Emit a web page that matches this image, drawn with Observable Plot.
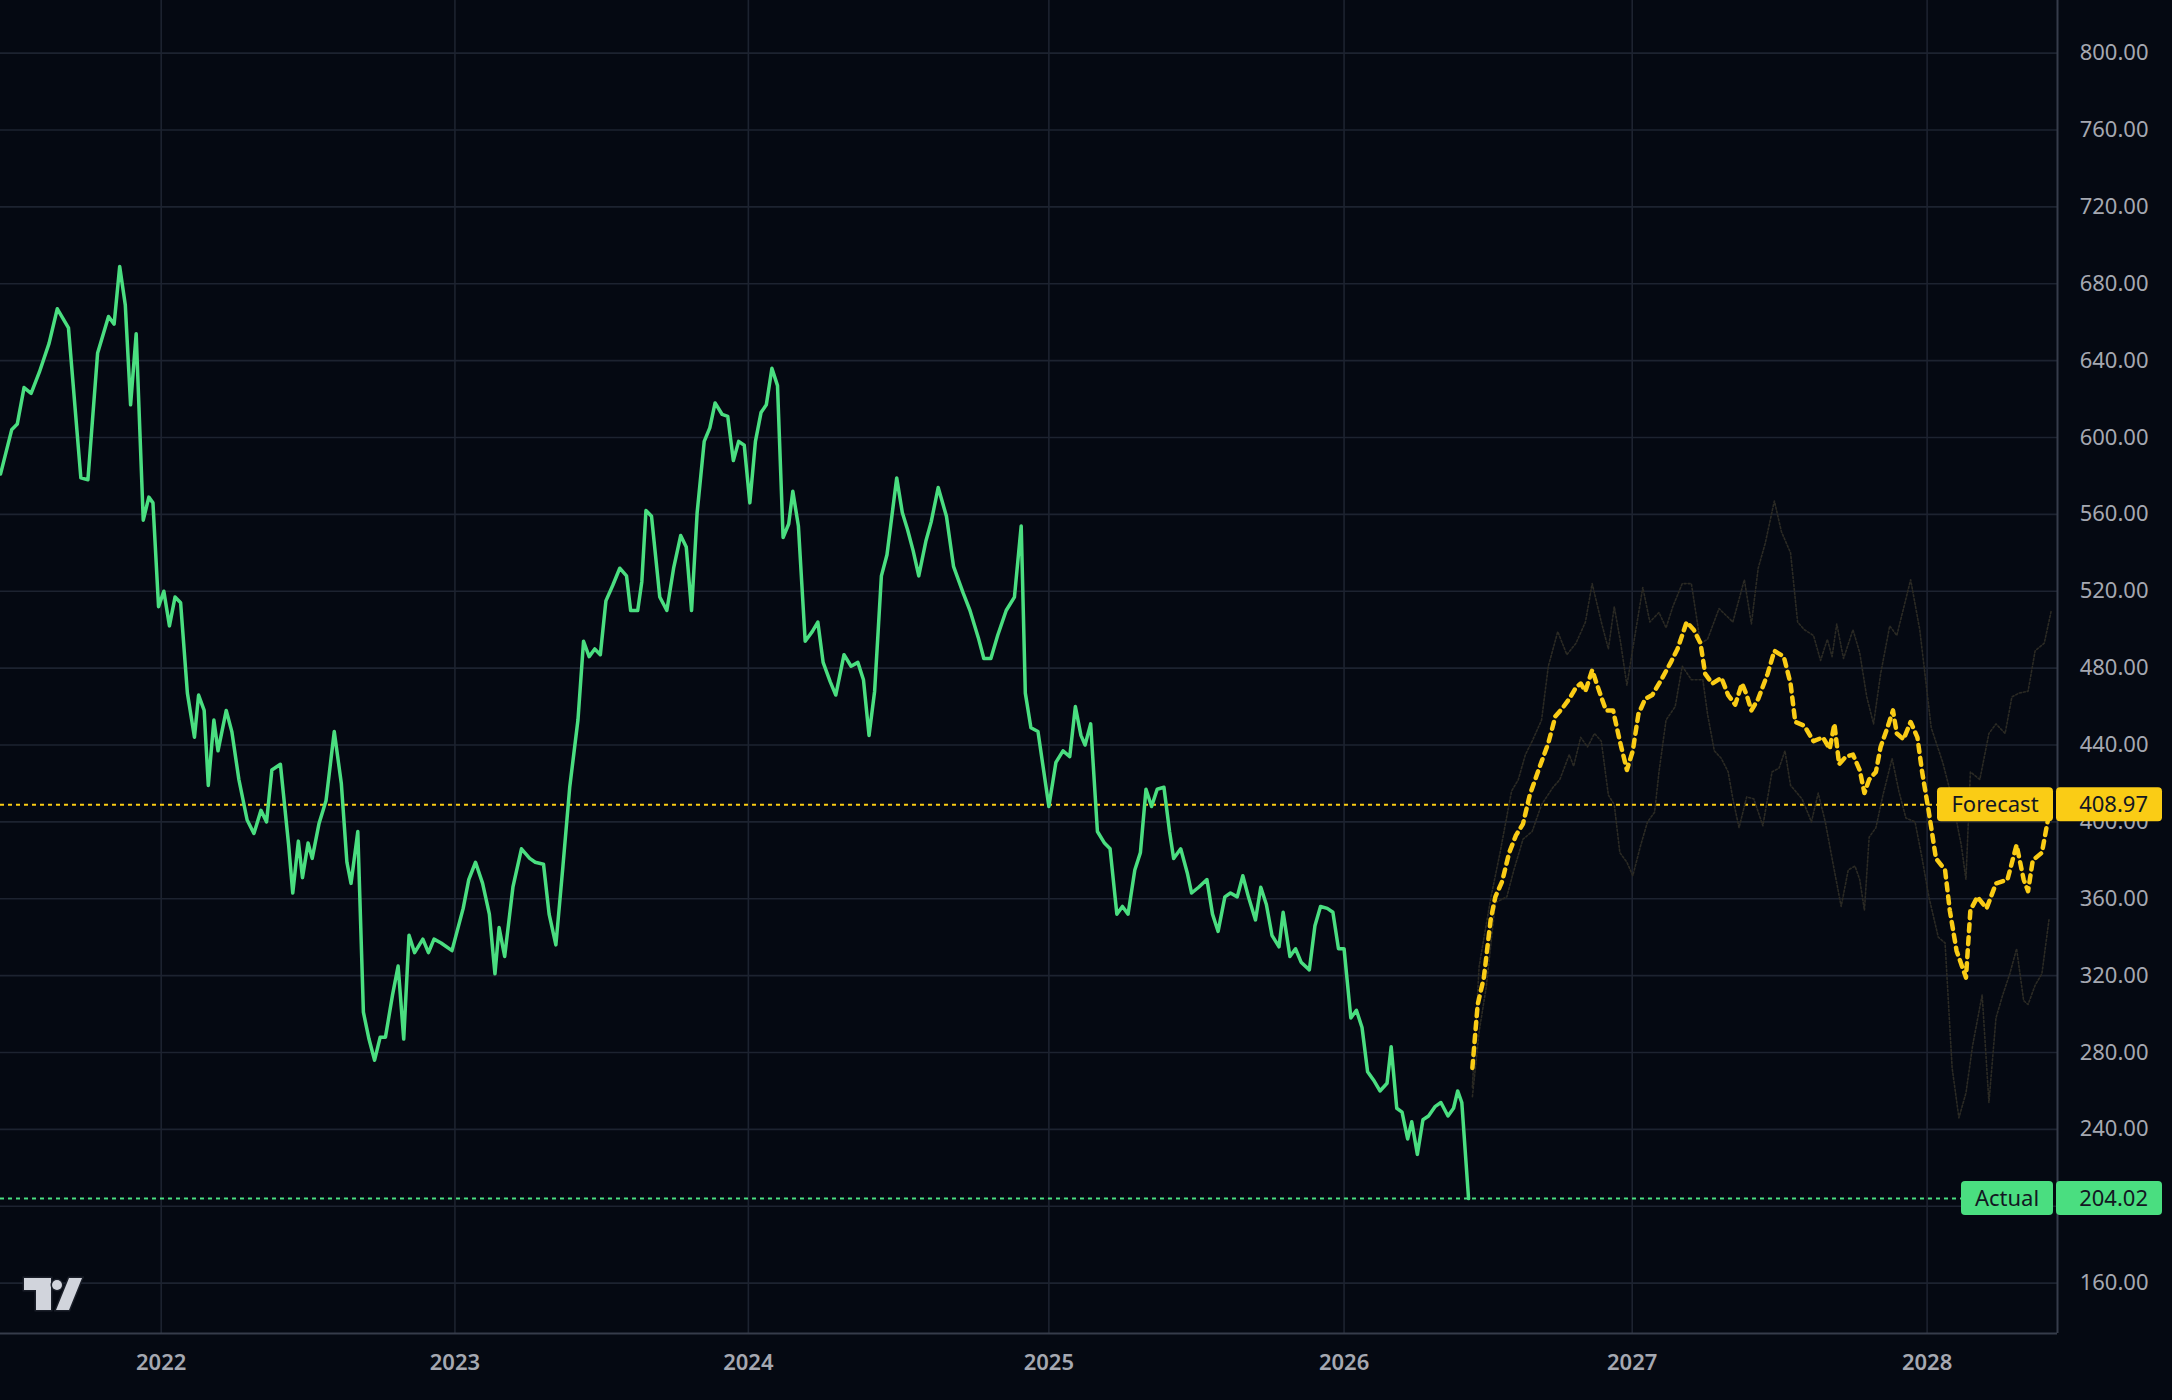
<!DOCTYPE html>
<html>
<head>
<meta charset="utf-8">
<script src="https://cdn.jsdelivr.net/npm/d3@7"></script>
<script src="https://cdn.jsdelivr.net/npm/@observablehq/plot@0.6"></script>
<style>
  html, body { margin: 0; padding: 0; background: #050912; overflow: hidden; }
  #chart svg { display: block; }
</style>
</head>
<body>
<div id="chart"></div>
<script>
// ---- data (time in decimal years, values in price units) ----
// year labels sit on the first bar of each year
const yearLabels = ["2022", "2023", "2024", "2025", "2026", "2027", "2028"];
const yearTickAt = [2022.000, 2022.998, 2023.995, 2025.016, 2026.019, 2026.998, 2028.000];
const priceTicks = [160, 200, 240, 280, 320, 360, 400, 440, 480, 520, 560, 600, 640, 680, 720, 760, 800];
const lastActual = 204.02;
const lastForecast = 408.97;
const actualLabel = "Actual";
const forecastLabel = "Forecast";

const actualT = [2021.454,2021.492,2021.511,2021.534,2021.558,2021.586,2021.619,2021.647,2021.685,2021.727,2021.751,2021.784,2021.821,2021.840,2021.859,2021.878,2021.896,2021.915,2021.939,2021.958,2021.972,2021.991,
2022.009,2022.028,2022.047,2022.066,2022.089,2022.113,2022.127,2022.146,2022.160,2022.179,2022.193,2022.221,2022.240,2022.264,2022.292,2022.315,2022.339,2022.358,2022.376,2022.405,2022.433,2022.447,2022.466,2022.480,2022.499,2022.513,2022.536,2022.560,2022.588,2022.612,2022.631,2022.645,2022.668,2022.687,2022.706,2022.725,2022.744,2022.762,2022.786,2022.805,2022.824,2022.842,2022.861,2022.889,2022.908,2022.927,2022.951,2022.988,
2023.026,2023.045,2023.068,2023.092,2023.115,2023.134,2023.148,2023.167,2023.195,2023.224,2023.252,2023.271,2023.299,2023.318,2023.341,2023.365,2023.388,2023.416,2023.435,2023.454,2023.473,2023.492,2023.511,2023.534,2023.558,2023.581,2023.595,2023.619,2023.633,2023.647,2023.666,2023.694,2023.718,2023.741,2023.765,2023.784,2023.802,2023.821,2023.845,2023.864,2023.882,2023.906,2023.925,2023.944,2023.962,2023.981,
2024.000,2024.019,2024.038,2024.056,2024.075,2024.094,2024.113,2024.132,2024.146,2024.165,2024.188,2024.212,2024.231,2024.249,2024.273,2024.292,2024.320,2024.344,2024.367,2024.386,2024.405,2024.424,2024.447,2024.466,2024.499,2024.518,2024.536,2024.555,2024.574,2024.598,2024.616,2024.640,2024.668,2024.692,2024.725,2024.748,2024.776,2024.795,2024.819,2024.842,2024.871,2024.899,2024.922,2024.936,2024.955,2024.979,2024.998,
2025.016,2025.040,2025.064,2025.087,2025.106,2025.125,2025.139,2025.158,2025.181,2025.205,2025.224,2025.247,2025.266,2025.285,2025.308,2025.327,2025.346,2025.365,2025.384,2025.407,2025.426,2025.440,2025.464,2025.487,2025.501,2025.525,2025.553,2025.572,2025.591,2025.614,2025.633,2025.656,2025.675,2025.694,2025.718,2025.736,2025.755,2025.774,2025.798,2025.812,2025.835,2025.854,2025.873,2025.901,2025.920,2025.939,2025.962,2025.981,
2026.000,2026.019,2026.042,2026.061,2026.080,2026.099,2026.122,2026.141,2026.165,2026.179,2026.198,2026.216,2026.235,2026.249,2026.268,2026.287,2026.306,2026.329,2026.348,2026.372,2026.391,2026.405,2026.419,2026.442];
const actualV = [581,604,607,626,623,634,649,667,657,579,578,644,663,659,689,669,617,654,557,569,566,512,
520,502,517,514,467,444,466,458,419,453,437,458,447,422,401,394,406,400,427,430,388,363,390,371,389,381,399,411,447,420,379,368,395,301,287,276,288,288,310,325,287,341,332,339,332,339,337,333,
355,370,379,368,352,321,345,330,366,386,381,379,378,352,336,377,418,453,494,486,490,487,515,523,532,528,510,510,525,562,559,517,510,532,549,543,510,561,598,605,618,612,611,588,598,596,
566,598,613,617,636,627,548,555,572,554,494,499,504,483,473,466,487,481,483,474,445,468,528,539,579,561,552,541,528,546,556,574,559,533,519,510,496,485,485,497,510,517,554,467,449,447,427,
408,431,437,434,460,445,440,451,395,389,386,352,356,352,375,384,417,408,417,418,395,381,386,373,363,366,370,352,343,361,363,361,372,361,349,366,357,341,335,353,330,334,327,323,346,356,355,353,
334,334,298,302,293,270,265,260,264,283,251,249,235,244,227,245,247,252,254,247,251,260,254,204.02];

const forecastT = [2026.455,2026.473,2026.494,2026.517,2026.533,2026.556,2026.580,2026.603,2026.627,2026.650,2026.682,2026.713,2026.737,2026.760,2026.784,2026.807,2026.823,2026.839,2026.862,2026.886,2026.909,2026.933,2026.956,2026.980,
2027.000,2027.019,2027.042,2027.066,2027.097,2027.129,2027.152,2027.183,2027.207,2027.230,2027.246,2027.270,2027.301,2027.324,2027.348,2027.371,2027.387,2027.403,2027.426,2027.458,2027.481,2027.513,2027.536,2027.552,2027.583,2027.614,2027.646,2027.669,2027.685,2027.701,2027.724,2027.748,2027.771,2027.787,2027.803,2027.826,2027.842,2027.865,2027.884,2027.897,2027.920,2027.944,2027.967,2027.983,
2028.006,2028.030,2028.061,2028.077,2028.100,2028.132,2028.147,2028.171,2028.202,2028.234,2028.273,2028.304,2028.328,2028.343,2028.359,2028.390,2028.420];
const forecastV = [272,305,319,349,361,369,384,393,399,414,428,441,455,459,464,470,472,468,479,468,458,458,442,427,
437,456,464,466,474,483,490,504,500,493,477,472,475,466,461,472,466,458,464,477,489,486,472,452,450,442,444,438,451,430,434,435,427,415,422,426,439,449,458,446,443,452,444,426,
405,381,375,354,333,319,354,361,355,368,370,388,370,364,380,384,408.97];

const upperT = [2026.455,2026.478,2026.517,2026.549,2026.588,2026.611,2026.635,2026.658,2026.690,2026.713,2026.745,2026.776,2026.807,2026.839,2026.862,2026.893,2026.917,2026.937,2026.959,2026.980,
2027.003,2027.034,2027.058,2027.089,2027.113,2027.136,2027.168,2027.199,2027.230,2027.254,2027.293,2027.340,2027.379,2027.403,2027.426,2027.450,2027.481,2027.505,2027.536,2027.560,2027.583,2027.614,2027.638,2027.661,2027.677,2027.693,2027.716,2027.748,2027.771,2027.795,2027.818,2027.842,2027.873,2027.897,2027.944,2027.975,
2028.014,2028.053,2028.085,2028.116,2028.132,2028.147,2028.179,2028.210,2028.234,2028.265,2028.288,2028.312,2028.343,2028.367,2028.398,2028.422];
const upperV = [262,325,360,384,416,422,435,442,453,481,499,487,493,504,524,504,490,512,493,471,
493,522,504,509,501,512,524,524,493,495,511,504,526,503,532,545,567,551,540,504,500,497,484,495,486,503,485,500,488,465,451,477,502,497,526,500,
449,431,412,388,370,426,422,446,451,446,465,467,468,489,493,510];

const lowerT = [2026.455,2026.478,2026.502,2026.533,2026.572,2026.596,2026.627,2026.658,2026.690,2026.729,2026.752,2026.784,2026.799,2026.823,2026.846,2026.870,2026.893,2026.917,2026.937,2026.956,2026.980,
2027.000,2027.027,2027.050,2027.074,2027.089,2027.113,2027.144,2027.168,2027.199,2027.238,2027.254,2027.277,2027.301,2027.324,2027.340,2027.361,2027.387,2027.411,2027.442,2027.473,2027.497,2027.517,2027.536,2027.575,2027.607,2027.630,2027.654,2027.677,2027.708,2027.732,2027.755,2027.771,2027.787,2027.803,2027.826,2027.850,2027.881,2027.904,2027.928,2027.959,2027.983,
2028.006,2028.038,2028.061,2028.085,2028.108,2028.132,2028.155,2028.187,2028.210,2028.234,2028.257,2028.281,2028.304,2028.328,2028.343,2028.367,2028.390,2028.414];
const lowerV = [257,291,314,358,361,375,391,395,409,418,422,435,429,444,439,446,442,414,409,384,379,
372,388,400,405,426,453,460,481,474,474,456,437,433,426,412,397,413,412,398,426,428,437,419,412,400,415,400,381,356,375,377,370,354,392,397,414,433,416,402,400,381,
361,340,337,272,246,259,284,310,254,298,310,321,334,307,305,315,321,349];

// ---- styling ----
const BG = "#050912";
const GRID = "#1d2330";
const AXIS = "#363c4a";
const TEXT = "#a5a8b1";
const GREEN = "#4ade80";
const YELLOW = "#facc15";
const GHOST = "#2b2a24";
const DARK = "#131722";
const fmt = d3.format(".2f");

const rows = (T, V) => T.map((t, i) => ({t, v: V[i]}));
const xDomain = [2021.454, 2028.443];
const yDomain = [133.8, 827.4];
const yearText = new Map(yearTickAt.map((t, i) => [t, yearLabels[i]]));
// the 200.00 label is fully hidden under the "Actual" tag in the reference
const priceLabelTicks = priceTicks.filter(v => v !== 200);

function priceTag(value, label, fill, labelWidth) {
  return (index, scales, values, dims) => {
    const y = scales.y(value);
    const right = dims.width - dims.marginRight;
    const h = 34;
    const g = d3.create("svg:g")
      .attr("font-family", "'Noto Sans', sans-serif")
      .attr("font-size", 22);
    g.append("rect")
      .attr("x", right - labelWidth - 4).attr("y", y - h / 2)
      .attr("width", labelWidth).attr("height", h).attr("rx", 4)
      .attr("fill", fill);
    g.append("text")
      .attr("x", right - 4 - labelWidth / 2).attr("y", y)
      .attr("dy", "0.34em").attr("text-anchor", "middle")
      .attr("fill", DARK).text(label);
    g.append("rect")
      .attr("x", right - 1).attr("y", y - h / 2)
      .attr("width", 106).attr("height", h).attr("rx", 4)
      .attr("fill", fill);
    g.append("text")
      .attr("x", right + 91).attr("y", y)
      .attr("dy", "0.34em").attr("text-anchor", "end")
      .attr("fill", DARK).text(fmt(value));
    return g.node();
  };
}

function logo(index, scales, values, dims) {
  const x0 = dims.marginLeft + 24;
  const y0 = dims.height - dims.marginBottom - 55;
  const g = d3.create("svg:g").attr("transform", `translate(${x0},${y0})`)
    .attr("fill", "#d1d4dc").attr("stroke", "#1a1e28").attr("stroke-width", 3)
    .attr("paint-order", "stroke");
  g.append("path").attr("d", "M0,0 H27 V32 H12 V12 H0 Z");
  g.append("circle").attr("cx", 33).attr("cy", 7).attr("r", 5);
  g.append("path").attr("d", "M45,0 H58 L45,32 H32 Z");
  return g.node();
}

const chart = Plot.plot({
  width: 2172,
  height: 1400,
  marginLeft: 0,
  marginRight: 115,
  marginTop: 0,
  marginBottom: 67,
  style: {background: BG, color: TEXT, fontFamily: "'Noto Sans', sans-serif", fontSize: "22px"},
  x: {type: "linear", domain: xDomain, label: null},
  y: {domain: yDomain, label: null},
  marks: [
    Plot.gridX(yearTickAt, {stroke: GRID, strokeOpacity: 1, strokeWidth: 1.6}),
    Plot.gridY(priceTicks, {stroke: GRID, strokeOpacity: 1, strokeWidth: 1.6}),
    Plot.ruleY([lastForecast], {stroke: YELLOW, strokeWidth: 2, strokeDasharray: "4,4"}),
    Plot.ruleY([lastActual], {stroke: GREEN, strokeWidth: 2, strokeDasharray: "4,4"}),
    Plot.line(rows(upperT, upperV), {x: "t", y: "v", stroke: GHOST, strokeWidth: 1.6, strokeDasharray: "2,2"}),
    Plot.line(rows(lowerT, lowerV), {x: "t", y: "v", stroke: GHOST, strokeWidth: 1.6, strokeDasharray: "2,2"}),
    Plot.line(rows(forecastT, forecastV), {x: "t", y: "v", stroke: YELLOW, strokeWidth: 4.5, strokeDasharray: "7,6"}),
    Plot.line(rows(actualT, actualV), {x: "t", y: "v", stroke: GREEN, strokeWidth: 3.5, strokeLinejoin: "round"}),
    Plot.ruleX([xDomain[1]], {stroke: AXIS, strokeWidth: 2}),
    Plot.ruleY([yDomain[0]], {stroke: AXIS, strokeWidth: 2}),
    Plot.axisY(priceLabelTicks, {anchor: "right", tickSize: 0, tickPadding: 0, tickFormat: fmt,
      textAnchor: "end", dx: 91, fill: TEXT, fontSize: 22, label: null}),
    Plot.axisX(yearTickAt, {anchor: "bottom", tickSize: 0, tickPadding: 21, tickFormat: d => yearText.get(d),
      fill: TEXT, fontSize: 22, fontWeight: 600, label: null}),
    priceTag(lastForecast, forecastLabel, YELLOW, 116),
    priceTag(lastActual, actualLabel, GREEN, 92),
    logo
  ]
});
document.getElementById("chart").appendChild(chart);
</script>
</body>
</html>
